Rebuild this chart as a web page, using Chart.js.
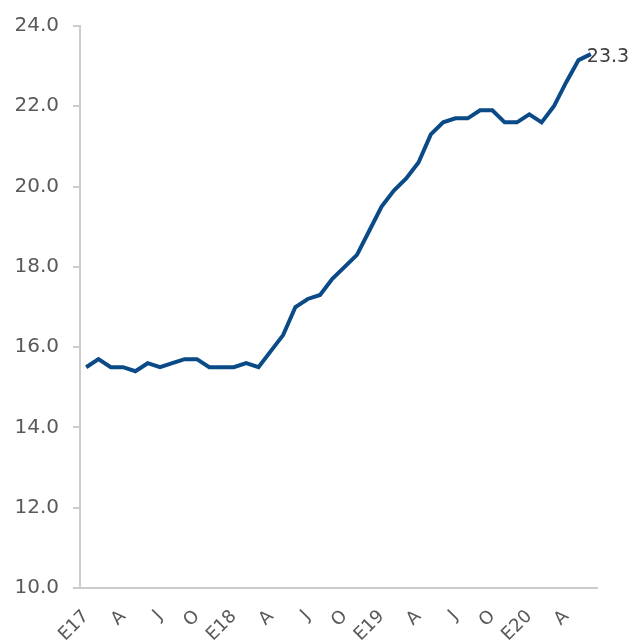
<!DOCTYPE html>
<html>
<head>
<meta charset="utf-8">
<script src="https://cdn.jsdelivr.net/npm/chart.js@4.4.0/dist/chart.umd.min.js"></script>
<style>
  html, body { margin: 0; padding: 0; background: #fff; }
  #wrap { width: 630px; height: 643px; }
</style>
</head>
<body>
<div id="wrap"><canvas id="grafico" width="630" height="643"></canvas></div>
<script>
// Meses de enero 2017 a junio 2020
const meses = [
  'E17','F','M','A','M','J','J','A','S','O','N','D',
  'E18','F','M','A','M','J','J','A','S','O','N','D',
  'E19','F','M','A','M','J','J','A','S','O','N','D',
  'E20','F','M','A','M','J'
];

const valores = [
  15.5, 15.7, 15.5, 15.5, 15.4, 15.6, 15.5, 15.6, 15.7, 15.7, 15.5, 15.5,
  15.5, 15.6, 15.5, 15.9, 16.3, 17.0, 17.2, 17.3, 17.7, 18.0, 18.3, 18.9,
  19.5, 19.9, 20.2, 20.6, 21.3, 21.6, 21.7, 21.7, 21.9, 21.9, 21.6, 21.6,
  21.8, 21.6, 22.0, 22.6, 23.15, 23.3
];

const etiquetaFinal = '23.3';

// Plugin para escribir el último valor junto a la línea
const ultimoValor = {
  id: 'ultimoValor',
  afterDatasetsDraw(chart) {
    const meta = chart.getDatasetMeta(0);
    const p = meta.data[meta.data.length - 1];
    const ctx = chart.ctx;
    ctx.save();
    ctx.font = '19px "DejaVu Sans"';
    ctx.fillStyle = '#404040';
    ctx.textAlign = 'left';
    ctx.textBaseline = 'middle';
    ctx.fillText(etiquetaFinal, p.x - 4, p.y + 3);
    ctx.restore();
  }
};

new Chart(document.getElementById('grafico'), {
  type: 'line',
  data: {
    labels: meses,
    datasets: [{
      data: valores,
      borderColor: '#0a4a86',
      borderWidth: 4,
      pointRadius: 0,
      tension: 0,
      fill: false
    }]
  },
  options: {
    responsive: false,
    animation: false,
    layout: { padding: { top: 25, right: 33, left: 0, bottom: 0 } },
    plugins: {
      legend: { display: false },
      tooltip: { enabled: false }
    },
    scales: {
      x: {
        offset: true,
        grid: { display: false },
        border: { display: true, color: '#cccccc', width: 2 },
        ticks: {
          autoSkip: false,
          maxRotation: 45,
          minRotation: 45,
          padding: 10,
          color: '#595959',
          font: { family: 'DejaVu Sans', size: 18 },
          callback: function (valor, indice) {
            return indice % 3 === 0 ? meses[indice] : '';
          }
        },
        afterFit: function (escala) { escala.height = 55; }
      },
      y: {
        min: 10,
        max: 24,
        grid: {
          drawOnChartArea: false,
          tickLength: 7,
          color: '#cccccc',
          lineWidth: 2
        },
        border: { display: true, color: '#cccccc', width: 2 },
        ticks: {
          stepSize: 2,
          padding: 14,
          color: '#595959',
          font: { family: 'DejaVu Sans', size: 20 },
          callback: function (valor) { return valor.toFixed(1); }
        },
        afterFit: function (escala) { escala.width = 80; }
      }
    }
  },
  plugins: [ultimoValor]
});
</script>
</body>
</html>
